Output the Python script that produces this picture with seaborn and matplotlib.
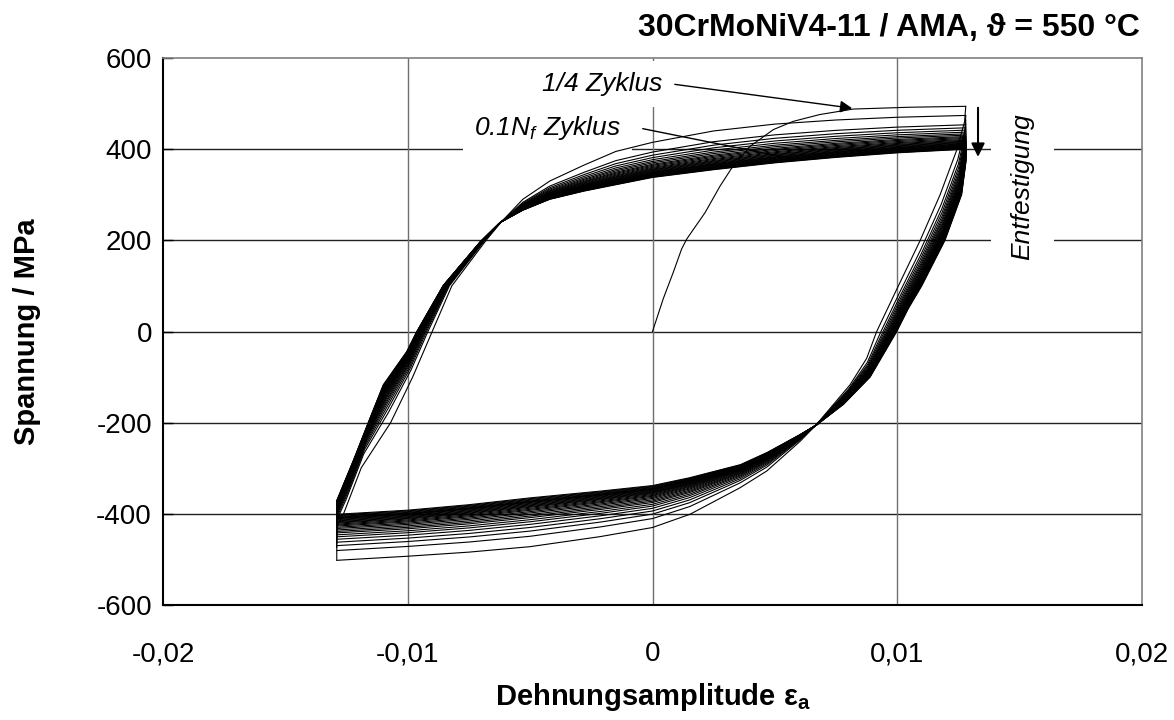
import numpy as np
import pandas as pd
import matplotlib
matplotlib.use("Agg")
import matplotlib.pyplot as plt
import seaborn as sns

# ---------------- data ----------------
# initial loading (1/4 cycle)
quarter_strain = [0.0, 0.00044, 0.00085, 0.00119, 0.0014, 0.00215, 0.00276, 0.00323,
                  0.00398, 0.00494, 0.00575, 0.00684, 0.0082, 0.0105, 0.0128]
quarter_stress = [0, 72, 130, 181, 203, 261, 319, 358, 406, 443, 461, 476, 488, 492, 494]

# descending branch (tension peak -> compression peak): first cycle and last cycle
desc_first_strain = [0.0128, 0.01275, 0.01243, 0.01175, 0.01093, 0.0100, 0.00916, 0.00875,
                     0.00807, 0.0067, 0.00603, 0.00467, 0.00357, 0.00153, 0.0, -0.00214,
                     -0.005, -0.0075, -0.010, -0.0129]
desc_first_stress = [494, 460, 398, 300, 199, 95, 0, -59, -117, -204, -241, -306, -343,
                     -401, -430, -450, -472, -484, -493, -502]
desc_last_strain = [0.0128, 0.0128, 0.01263, 0.01195, 0.0110, 0.01045, 0.00998, 0.00889,
                    0.0078, 0.0067, 0.0060, 0.0047, 0.0036, 0.0015, 0.0, -0.0021,
                    -0.005, -0.0075, -0.010, -0.0129]
desc_last_stress = [400, 370, 300, 200, 100, 50, 0, -100, -160, -205, -227, -265, -292,
                    -321, -338, -350, -365, -380, -392, -401]

# ascending branch (compression peak -> tension peak): first cycle and last cycle
asc_first_strain = [-0.0129, -0.0129, -0.01263, -0.0119, -0.0107, -0.0098, -0.0090, -0.0082,
                    -0.0068, -0.0062, -0.0053, -0.0042, -0.0028, -0.0015, 0.0, 0.0025,
                    0.005, 0.0075, 0.010, 0.0128]
asc_first_stress = [-502, -430, -401, -299, -200, -100, 0, 100, 200, 239, 290, 330, 365,
                    395, 415, 440, 455, 464, 470, 474]
asc_last_strain = [-0.0129, -0.0129, -0.0122, -0.01154, -0.0110, -0.01004, -0.00963, -0.00855,
                   -0.00705, -0.00623, -0.0053, -0.0042, -0.0028, -0.0015, 0.0, 0.0025,
                   0.005, 0.0075, 0.010, 0.0128]
asc_last_stress = [-401, -371, -280, -190, -117, -44, 0, 101, 196, 239, 266, 290, 308,
                   322, 338, 355, 370, 382, 392, 400]

# peak stresses of the recorded cycles (softening / Entfestigung)
tension_peaks = [494, 474, 464, 457, 451, 446, 442, 438, 435, 432, 429, 426.5, 424, 422,
                 420, 418, 416.5, 415, 413.5, 412, 410.5, 409, 408, 407, 406, 404.5, 403,
                 401.5, 400]
compression_peaks = [-502, -474, -465, -458, -452, -447, -443, -439, -436, -433, -430,
                     -427.5, -425, -423, -421, -419, -417, -415.5, -414, -412.5, -411,
                     -409.5, -408, -407, -406, -404.5, -403, -402, -401]

x_ticks = [-0.02, -0.01, 0.0, 0.01, 0.02]
x_tick_labels = ["-0,02", "-0,01", "0", "0,01", "0,02"]
y_ticks = [-600, -400, -200, 0, 200, 400, 600]
y_tick_labels = ["-600", "-400", "-200", "0", "200", "400", "600"]

# ---------------- build long table ----------------
rows = []
bid = 0
for s, t in zip(quarter_strain, quarter_stress):
    rows.append((bid, s, t))
bid += 1
df_ = np.array(desc_first_strain); dft = np.array(desc_first_stress)
dls = np.array(desc_last_strain); dlt = np.array(desc_last_stress)
afs = np.array(asc_first_strain); aft = np.array(asc_first_stress)
als = np.array(asc_last_strain); alt = np.array(asc_last_stress)
tp0, tpn = tension_peaks[0], tension_peaks[-1]
cp0, cpn = compression_peaks[0], compression_peaks[-1]
for i in range(len(tension_peaks)):
    w = (tension_peaks[i] - tpn) / (tp0 - tpn)
    xs = dls + w * (df_ - dls)
    ys = dlt + w * (dft - dlt)
    for s, t in zip(xs, ys):
        rows.append((bid, s, t))
    bid += 1
    v = (compression_peaks[i] - cpn) / (cp0 - cpn)
    xs = als + v * (afs - als)
    ys = alt + v * (aft - alt)
    for s, t in zip(xs, ys):
        rows.append((bid, s, t))
    bid += 1
df = pd.DataFrame(rows, columns=["branch", "strain", "stress"])

# ---------------- style ----------------
sns.set_theme(style="white")
plt.rcParams["font.family"] = ["Liberation Sans", "DejaVu Sans"]
plt.rcParams["mathtext.fontset"] = "custom"
plt.rcParams["mathtext.rm"] = "Liberation Sans"
plt.rcParams["mathtext.it"] = "Liberation Sans:italic"
plt.rcParams["mathtext.bf"] = "Liberation Sans:bold"
for k in ["text.color", "axes.labelcolor", "xtick.color", "ytick.color"]:
    plt.rcParams[k] = "black"

fig = plt.figure(figsize=(11.74, 7.2), dpi=100)
ax = fig.add_axes([163 / 1174, 1 - 605 / 720, (1142 - 163) / 1174, (605 - 58) / 720])

sns.lineplot(data=df, x="strain", y="stress", units="branch", estimator=None,
             sort=False, color="black", linewidth=0.8, ax=ax, legend=False, zorder=2)

ax.set_xlim(-0.02, 0.02)
ax.set_ylim(-600, 600)
ax.set_xticks(x_ticks)
ax.set_xticklabels(x_tick_labels)
ax.set_yticks(y_ticks)
ax.set_yticklabels(y_tick_labels)
ax.tick_params(axis="both", labelsize=20, colors="black")
ax.tick_params(axis="x", pad=26, length=0)
ax.tick_params(axis="y", direction="in", length=7, width=1, pad=8, left=True)

for y in [-400, -200, 0, 200, 400]:
    ax.axhline(y, color="#222222", linewidth=1.0, zorder=0.5)
for x in [-0.01, 0.0, 0.01]:
    ax.axvline(x, color="#707070", linewidth=1.0, zorder=0.5)

for side in ["left", "bottom"]:
    ax.spines[side].set_color("black")
    ax.spines[side].set_linewidth(1.5)
for side in ["top", "right"]:
    ax.spines[side].set_color("#808080")
    ax.spines[side].set_linewidth(1.2)

ax.set_xlabel("Dehnungsamplitude ε$_\\mathbf{a}$", fontsize=21, fontweight="bold", labelpad=10)
ax.set_ylabel("Spannung / MPa", fontsize=21, fontweight="bold", labelpad=40)

fig.text(1140 / 1174, 1 - 28 / 720, "30CrMoNiV4-11 / AMA, ϑ = 550 °C", ha="right",
         va="center", fontsize=23, fontweight="bold")

# annotations
ax.text(0.00039, 543, "1/4 Zyklus", ha="right", va="center", fontsize=19, style="italic",
        bbox=dict(facecolor="white", edgecolor="none", pad=8), zorder=3, clip_on=False)
ax.annotate("", xy=(0.00827, 489), xytext=(0.0008, 543),
            arrowprops=dict(arrowstyle="-|>", color="black", lw=1.0, mutation_scale=18))

ax.text(-0.0013, 447, "0.1N$_{\\mathit{f}}$ Zyklus", ha="right", va="center", fontsize=19,
        style="italic", bbox=dict(facecolor="white", edgecolor="none", pad=8), zorder=1.5)
ax.plot([-0.0004, 0.0058], [445, 378], color="black", lw=1.0, zorder=2)

ax.text(0.0151, 318, "Entfestigung", ha="center", va="center", rotation=90, fontsize=19,
        style="italic", bbox=dict(facecolor="white", edgecolor="none", pad=14), zorder=1.5)
ax.annotate("", xy=(0.0133, 377), xytext=(0.0133, 497),
            arrowprops=dict(arrowstyle="-|>", color="black", lw=1.5, mutation_scale=20))

fig.savefig("out.png", dpi=100)
